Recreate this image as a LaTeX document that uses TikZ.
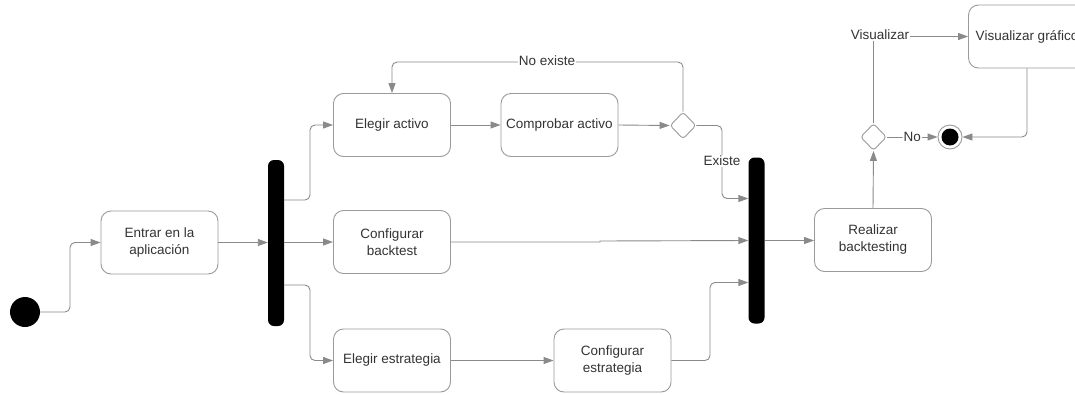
\documentclass[tikz,border=0pt]{standalone}
\usepackage{fontspec}
\setmainfont{Liberation Sans}
\usetikzlibrary{arrows.meta,shapes.geometric}
\definecolor{linegray}{HTML}{8A8A8A}
\definecolor{boxgray}{HTML}{9A9A9A}
\definecolor{txt}{HTML}{333333}
\tikzset{
  act/.style={draw=boxgray, line width=0.9pt, rounded corners=10pt, fill=white,
    minimum width=117pt, minimum height=63pt, align=center, text=txt,
    font=\fontsize{13.5}{17}\selectfont, inner sep=2pt},
  forkbar/.style={fill=black, rounded corners=6pt, minimum width=16pt,
    minimum height=166pt, inner sep=0pt},
  decision/.style={diamond, draw=boxgray, line width=0.9pt, rounded corners=3pt,
    fill=white, minimum width=26pt, minimum height=27pt, inner sep=0pt},
  flow/.style={draw=linegray, line width=0.9pt, rounded corners=5pt,
    -{Triangle[length=10pt,width=7pt]}, color=linegray},
  lbl/.style={fill=white, text=txt, font=\fontsize{13.5}{15}\selectfont,
    inner sep=1pt}
}
\begin{document}
\begin{tikzpicture}[x=1pt,y=-1pt]
\useasboundingbox (0,0) rectangle (1075,394);
\clip (0,0) rectangle (1075,394);
\fill[white] (0,0) rectangle (1075,394);

% initial and final states
\node[circle, fill=black, minimum size=30pt, inner sep=0pt] (start) at (25,312) {};
\node[circle, draw=boxgray, line width=0.9pt, minimum size=24pt, inner sep=0pt] (fin) at (950,137) {};
\fill[black] (fin) circle (8.5pt);

% activities
\node[act] (entrar) at (159.5,242.5) {Entrar en la\\aplicación};
\node[act] (elegir) at (392,125) {Elegir activo};
\node[act] (comprobar) at (559.5,125) {Comprobar activo};
\node[act] (cbt) at (392,242) {Configurar\\backtest};
\node[act] (estr) at (392,360.5) {Elegir estrategia};
\node[act] (cestr) at (612.5,360.5) {Configurar\\estrategia};
\node[act] (realizar) at (873,240) {Realizar\\backtesting};
\node[act] (vg) at (1027,36.5) {Visualizar gráfico};

% fork / join bars
\node[forkbar] (f1) at (276,243) {};
\node[forkbar] (f2) at (756.5,240.5) {};

% decisions
\node[decision] (d1) at (683,125.5) {};
\node[decision] (d2) at (873.5,137) {};

% flows
\draw[flow] (start.east) -- (70,312) |- (entrar.west);
\draw[flow] (entrar.east) -- (entrar.east -| f1.west);
\draw[flow] ([yshift=43pt]f1.east) -- (310,200) |- (elegir.west);
\draw[flow] (f1.east |- cbt.west) -- (cbt.west);
\draw[flow] ([yshift=-42pt]f1.east) -- (310,285) |- (estr.west);

\draw[flow] (elegir.east) -- (comprobar.west);
\draw[flow] (comprobar.east) -- (d1.west);
\draw[flow] (d1.north) -- (683,62) -| (elegir.north);
\node[lbl] (noex) at (547,61) {No existe};
\draw[flow] (d1.east) -| (722,160) |- ([yshift=42pt]f2.west);
\node[lbl] (ex) at (722,161) {Existe};

\draw[flow, rounded corners=0pt] (cbt.east) -- (600,242) -- (600,241) -- (f2.west);
\draw[flow] (estr.east) -- (cestr.west);
\draw[flow] (cestr.east) -- (710,360.5) |- ([yshift=-42pt]f2.west);

\draw[flow] (f2.east) -- (f2.east -| realizar.west);
\draw[flow] (realizar.north) -- (d2.south);
\draw[flow] (d2.north) |- (vg.west);
\node[lbl] (vis) at (880,35) {Visualizar};
\draw[flow] (d2.east) -- (fin.west) node[lbl, midway] {No};
\draw[flow] (vg.south) |- (fin.east);
\end{tikzpicture}
\end{document}
